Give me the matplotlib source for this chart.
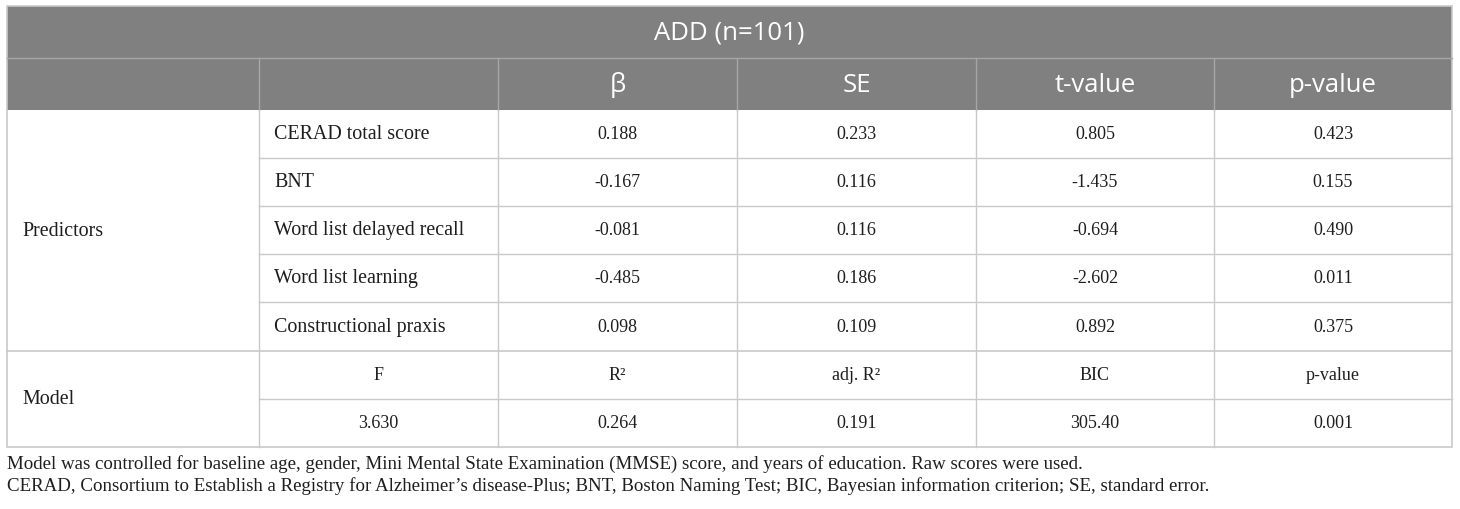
import matplotlib.pyplot as plt
from matplotlib.patches import Rectangle

# table content
title = "ADD (n=101)"
headers = ["β", "SE", "t-value", "p-value"]
predictors = ["CERAD total score", "BNT", "Word list delayed recall",
              "Word list learning", "Constructional praxis"]
beta = ["0.188", "-0.167", "-0.081", "-0.485", "0.098"]
se = ["0.233", "0.116", "0.116", "0.186", "0.109"]
t_values = ["0.805", "-1.435", "-0.694", "-2.602", "0.892"]
p_values = ["0.423", "0.155", "0.490", "0.011", "0.375"]
model_labels = ["F", "R²", "adj. R²", "BIC", "p-value"]
model_values = ["3.630", "0.264", "0.191", "305.40", "0.001"]
footnotes = [
    "Model was controlled for baseline age, gender, Mini Mental State Examination (MMSE) score, and years of education. Raw scores were used.",
    "CERAD, Consortium to Establish a Registry for Alzheimer\u2019s disease-Plus; BNT, Boston Naming Test; BIC, Bayesian information criterion; SE, standard error.",
]

# layout in pixels
col_x = [7, 259, 498, 737, 976, 1214, 1452]
row_y = [7, 59, 111, 159, 207, 255, 303, 352, 400, 448]
header_bg = "#808080"
grid = "#c9c9c9"
header_grid = "#a6a6a6"
text_col = "#1e1e1e"
serif = "Liberation Serif"
sans = "Open Sans"

fig = plt.figure(figsize=(14.6, 5.1), dpi=100)
ax = fig.add_axes([0, 0, 1, 1])
ax.set_xlim(0, 1460)
ax.set_ylim(510, 0)
ax.axis("off")

# header background
ax.add_patch(Rectangle((col_x[0], row_y[0]), col_x[-1] - col_x[0], row_y[2] - row_y[0],
                       facecolor=header_bg, edgecolor="none"))
ax.plot([col_x[0], col_x[-1]], [row_y[1], row_y[1]], color=header_grid, lw=1)
for x in col_x[1:-1]:
    ax.plot([x, x], [row_y[1], row_y[2]], color=header_grid, lw=1)

# body grid lines
for y in row_y[3:7]:
    ax.plot([col_x[1], col_x[-1]], [y, y], color=grid, lw=1)
ax.plot([col_x[0], col_x[-1]], [row_y[7], row_y[7]], color=grid, lw=1.2)
ax.plot([col_x[1], col_x[-1]], [row_y[8], row_y[8]], color=grid, lw=1)
for x in col_x[1:-1]:
    ax.plot([x, x], [row_y[2], row_y[-1]], color=grid, lw=1)
# outer border
ax.add_patch(Rectangle((col_x[0], row_y[0]), col_x[-1] - col_x[0], row_y[-1] - row_y[0],
                       facecolor="none", edgecolor=grid, lw=1.2))

def mid(a, b):
    return (a + b) / 2

# header texts
ax.text(mid(col_x[0], col_x[-1]), mid(row_y[0], row_y[1]), title, color="white",
        fontsize=18.5, family=sans, ha="center", va="center")
for i, h in enumerate(headers):
    ax.text(mid(col_x[i + 2], col_x[i + 3]), mid(row_y[1], row_y[2]), h, color="white",
            fontsize=18.5, family=sans, ha="center", va="center")

# predictor rows
ax.text(col_x[0] + 15, mid(row_y[2], row_y[7]), "Predictors", color=text_col,
        fontsize=14.4, family=serif, ha="left", va="center")
columns = [beta, se, t_values, p_values]
for r, name in enumerate(predictors):
    yc = mid(row_y[2 + r], row_y[3 + r])
    ax.text(col_x[1] + 15, yc, name, color=text_col, fontsize=14.4, family=serif,
            ha="left", va="center")
    for c, vals in enumerate(columns):
        ax.text(mid(col_x[c + 2], col_x[c + 3]), yc, vals[r], color=text_col,
                fontsize=13, family=serif, ha="center", va="center")

# model rows
ax.text(col_x[0] + 15, mid(row_y[7], row_y[9]), "Model", color=text_col,
        fontsize=14.4, family=serif, ha="left", va="center")
for c in range(5):
    xc = mid(col_x[c + 1], col_x[c + 2])
    ax.text(xc, mid(row_y[7], row_y[8]), model_labels[c], color=text_col,
            fontsize=13, family=serif, ha="center", va="center")
    ax.text(xc, mid(row_y[8], row_y[9]), model_values[c], color=text_col,
            fontsize=13, family=serif, ha="center", va="center")

# footnotes
for i, note in enumerate(footnotes):
    ax.text(col_x[0], 464 + i * 22, note, color=text_col, fontsize=13.6,
            family=serif, ha="left", va="center")

fig.savefig("out.png", dpi=100)
